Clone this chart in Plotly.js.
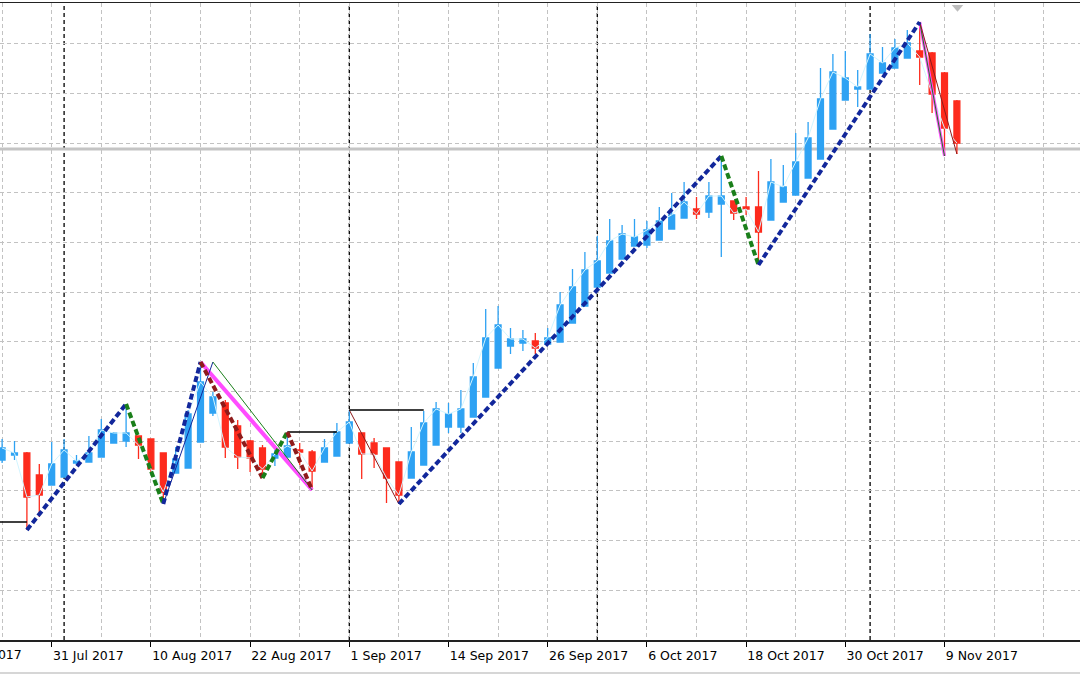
<!DOCTYPE html>
<html>
<head>
<meta charset="utf-8">
<script src="https://cdn.plot.ly/plotly-3.0.1.min.js"></script>
<style>
  html, body { margin: 0; padding: 0; background: #ffffff; }
  #chart { width: 1080px; height: 675px; }
</style>
</head>
<body>
<div id="chart"></div>
<script>
// Daily bars 25 Jul 2017 .. 10 Nov 2017 (bar index 0 .. 77)
const open = [1180,1185,1187,1165,1155,1163,1177,1178,1183,1197,
              1199,1204,1201,1187,1167,1172,1198,1227,1237,1214,
              1199,1192,1182,1183,1190,1188,1178,1184,1197,1207,
              1197,1192,1178,1162,1175,1195,1213,1213,1223,1243,
              1272,1294,1297,1299,1296,1298,1317,1334,1353,1367,
              1381,1394,1395,1400,1411,1422,1431,1428,1436,1439,
              1433,1433,1420,1438,1445,1462,1481,1511,1540,1551,
              1551,1567,1572,1582,1589,1587,1567,1539];
const high = [1201,1199,1188,1176,1198,1201,1185,1204,1221,1208,
              1236,1204,1201,1187,1193,1230,1278,1248,1240,1220,
              1200,1195,1190,1208,1197,1190,1201,1217,1230,1207,
              1202,1192,1178,1213,1229,1238,1237,1250,1277,1331,
              1334,1312,1310,1307,1312,1348,1371,1388,1404,1421,
              1415,1421,1419,1433,1447,1458,1443,1458,1484,1439,
              1443,1469,1481,1475,1507,1518,1572,1586,1589,1570,
              1606,1593,1601,1610,1618,1588,1568,1540];
const low = [1177,1180,1110,1123,1155,1163,1175,1178,1183,1197,
             1193,1181,1167,1136,1167,1172,1198,1224,1182,1171,
             1168,1162,1174,1183,1175,1150,1178,1184,1197,1161,
             1172,1137,1136,1162,1175,1195,1207,1207,1223,1243,
             1272,1286,1289,1286,1296,1298,1317,1334,1353,1367,
             1381,1394,1392,1400,1411,1422,1421,1422,1383,1420,
             1425,1375,1420,1438,1445,1462,1481,1511,1540,1533,
             1551,1567,1572,1582,1555,1527,1484,1486];
const close = [1192,1187,1143,1145,1176,1190,1179,1187,1210,1207,
               1207,1195,1171,1148,1181,1226,1258,1243,1193,1183,
               1182,1171,1186,1194,1188,1169,1192,1208,1218,1186,
               1186,1162,1145,1188,1217,1231,1226,1231,1263,1302,
               1315,1301,1301,1292,1302,1335,1353,1370,1379,1399,
               1406,1403,1410,1419,1425,1438,1426,1444,1444,1427,
               1431,1408,1458,1453,1478,1502,1541,1568,1562,1553,
               1586,1577,1592,1597,1583,1546,1512,1497];

// time axis labels (bar index -> text)
const tickIdx  = [4, 12, 20, 28, 36, 44, 52, 60, 68, 76];
const tickText = ['31 Jul 2017','10 Aug 2017','22 Aug 2017','1 Sep 2017','14 Sep 2017',
                  '26 Sep 2017','6 Oct 2017','18 Oct 2017','30 Oct 2017','9 Nov 2017'];
const firstLabel = '19 Jul 2017';   // label of bar -4 (mostly off-screen)
const periodSeparators = [5, 28, 48, 70];  // 1 Aug, 1 Sep, 2 Oct, 1 Nov
const bidPrice = 1491;
const prevLevel = 1118;

// ZigZag swing points: [bar, 'H'|'L']
const zigA = [[2,'L'],[10,'H'],[13,'L'],[16,'H'],[21,'L'],[23,'H'],[25,'L']];
const zigAStyle = ['up','corr','up','down','corr','down'];
const zigB = [[32,'L'],[58,'H'],[61,'L'],[74,'H']];
const zigBStyle = ['up','corr','up'];

const idx = open.map((_, i) => i);
const pv = (b, k) => (k === 'H' ? high[b] : low[b]);

const traces = [];
// thin close line
traces.push({type:'scatter', mode:'lines', x: idx, y: close,
  line:{color:'#d2f5ff', width:1}, hoverinfo:'skip'});
// candles
traces.push({type:'candlestick', x: idx, open, high, low, close,
  increasing:{line:{color:'#2ea2f3', width:1.3}, fillcolor:'#2ea2f3'},
  decreasing:{line:{color:'#fd2b1d', width:1.3}, fillcolor:'#fd2b1d'},
  whiskerwidth:0, hoverinfo:'skip'});

function seg(x, y, color, width, dash) {
  traces.push({type:'scatter', mode:'lines', x, y,
    line:{color, width, dash: dash || 'solid'}, hoverinfo:'skip'});
}
const C = {navy:'#12279b', green:'#1a7f1a', dred:'#8e1b1b', pink:'#ff4cff', black:'#000000'};

// pink channel + thin lines
seg([16,25], [high[16], low[25]], C.pink, 4);
seg([74,76], [high[74], low[76]], C.pink, 3);
seg([13,17], [low[13], high[16]], C.navy, 1);
seg([17,25], [high[16], low[25]], C.green, 1);
seg([74,76], [high[74], low[76]], C.green, 1);
seg([74,77], [high[74], low[77]], C.dred, 1);
seg([28,32], [high[28], low[32]], C.dred, 1);
seg([-1,2], [prevLevel, prevLevel], C.black, 1.3);
seg([23,27], [high[23], high[23]], C.black, 1.3);
seg([28,34], [high[28], high[28]], C.black, 1.3);

// thick dashed zigzag
const styleCol = {up:C.navy, corr:C.green, down:C.dred};
function zig(points, styles) {
  for (let k = 0; k < points.length - 1; k++) {
    const [b0,k0] = points[k], [b1,k1] = points[k+1];
    seg([b0,b1], [pv(b0,k0), pv(b1,k1)], styleCol[styles[k]], 4, '6px,3px');
  }
}
zig(zigA, zigAStyle);
zig(zigB, zigBStyle);

const gridCol = '#c2c2c2';
const shapes = [];
periodSeparators.forEach(b => shapes.push({type:'line', xref:'x', yref:'paper',
  x0:b, x1:b, y0:0, y1:1, layer:'below',
  line:{color:'#000', width:1.3, dash:'4px,3px'}}));
shapes.push({type:'line', xref:'paper', yref:'y', x0:0, x1:1, y0:bidPrice, y1:bidPrice,
  layer:'below', line:{color:'#c4c4c4', width:3}});
shapes.push({type:'line', xref:'paper', yref:'paper', x0:0, x1:1, y0:-0.052, y1:-0.052,
  line:{color:'#d6d6d6', width:2}});
shapes.push({type:'path', xref:'paper', yref:'paper',
  path:'M 0.8812 0.9969 L 0.8919 0.9969 L 0.8866 0.9864 Z',
  fillcolor:'#bdbdbd', line:{width:0}});

const layout = {
  width:1080, height:675,
  margin:{l:0, r:0, t:3, b:35},
  paper_bgcolor:'#ffffff', plot_bgcolor:'#ffffff',
  showlegend:false, boxgap:0.32,
  font:{family:'DejaVu Sans', size:12.5, color:'#000'},
  xaxis:{
    range:[-0.169, 86.927], rangeslider:{visible:false}, fixedrange:true,
    tickmode:'array', tickvals:tickIdx, ticktext:tickText,
    ticklabelposition:'outside right', ticks:'outside', ticklen:5,
    ticklabelstandoff:3,
    tickcolor:'#000', tickwidth:1,
    showline:true, mirror:true, linecolor:'#222', linewidth:1.5,
    showgrid:true, gridcolor:gridCol, griddash:'4px,3px', gridwidth:1,
    minor:{tickmode:'linear', tick0:0, dtick:4, showgrid:true,
           gridcolor:gridCol, griddash:'4px,3px', gridwidth:1, ticks:''},
    zeroline:false,
    tickfont:{family:'DejaVu Sans', size:12.5, color:'#000'}
  },
  yaxis:{
    range:[1000, 1637], fixedrange:true, tick0:1050, dtick:49.64,
    showticklabels:false, ticks:'', showgrid:true, gridcolor:gridCol,
    griddash:'4px,3px', gridwidth:1, zeroline:false, showline:false
  },
  shapes,
  annotations:[{xref:'paper', yref:'paper', x:-51.5/1080, y:-0.0085,
    xanchor:'left', yanchor:'top', text:firstLabel, showarrow:false,
    font:{family:'DejaVu Sans', size:12.5, color:'#000'}}]
};

Plotly.newPlot('chart', traces, layout, {displayModeBar:false, staticPlot:true});
</script>
</body>
</html>
